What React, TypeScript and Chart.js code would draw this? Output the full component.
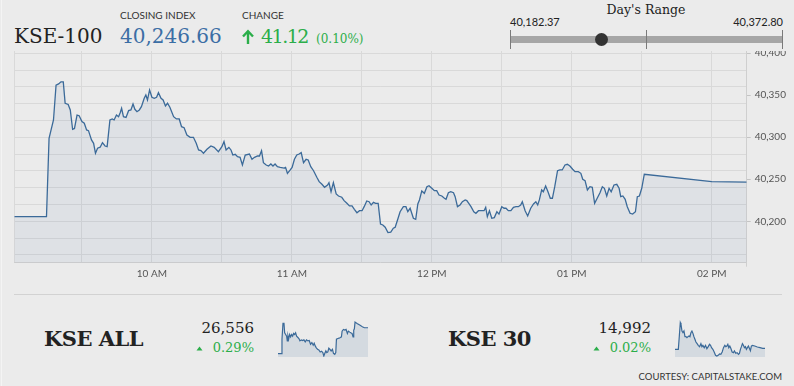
import React, { useEffect, useRef } from 'react';
import { Chart, registerables } from 'chart.js';

Chart.register(...registerables);

// ---- Data (minutes after 09:00, index value) ----
const kse100Series: [number, number][] = [
  [1, 40205.5], [14.8, 40205.5], [15.9, 40298.8], [17.8, 40320.6], [18.9, 40362], [20, 40363.5], [21, 40366], [22, 40366],
  [22.8, 40340.5], [24.1, 40339], [25, 40332.5], [26, 40309.5], [26.8, 40310.5], [27.9, 40326.5], [28.8, 40325.7], [30, 40318.6],
  [31, 40316.7], [32, 40308.7], [32.8, 40307.9], [34.1, 40296.8], [35, 40292.8], [35.8, 40281], [36.7, 40287], [37.8, 40288.2],
  [38.8, 40293.6], [39.9, 40289.6], [40.8, 40288.8], [42, 40320.6], [43, 40321.8], [43.8, 40320.6], [44.8, 40326.5], [45.7, 40324.5],
  [46.4, 40329.3], [47, 40334.5], [47.8, 40324.5], [48.9, 40323.7], [50, 40331.7], [51, 40332.5], [51.9, 40339.6], [52.7, 40333.3],
  [53.6, 40330.5], [54.6, 40332.5], [55.5, 40336.4], [56.7, 40346.4], [57.4, 40350.4], [58.1, 40344.4], [59, 40356.3], [60, 40347.6],
  [61, 40346.4], [62, 40347.6], [62.8, 40353.1], [63.9, 40346.4], [64.8, 40344.4], [65.8, 40337.3], [66.7, 40340.5], [67.7, 40335.7],
  [69.3, 40324.5], [70.5, 40321.8], [71.7, 40321.8], [72.7, 40312.6], [73.8, 40311.4], [75, 40302.7], [76.4, 40300], [77.8, 40300],
  [79, 40292.8], [80, 40284.9], [81, 40284.1], [82.1, 40281], [83.6, 40285.7], [85.3, 40289.6], [86.7, 40288], [88.5, 40282.9],
  [90, 40288.8], [90.9, 40294.8], [91.8, 40284.9], [93, 40288], [93.9, 40284.9], [94.7, 40278.9], [95.7, 40279.7], [96.7, 40276.9],
  [97.8, 40276.1], [98.8, 40267], [100, 40278.9], [101.8, 40280.1], [102.9, 40273.8], [104, 40276.1], [105.3, 40277.7], [106.1, 40277.7],
  [107, 40284], [107.8, 40269.8], [109, 40267], [110, 40265.8], [111, 40268.2], [111.9, 40265.8], [112.8, 40268.2], [113.8, 40265],
  [115, 40264.2], [116.7, 40263.4], [117.3, 40264.2], [118.1, 40257.1], [119.3, 40261.1], [120.1, 40264.2], [121.1, 40273.8], [122.1, 40278.9],
  [123.1, 40280.1], [124, 40281.7], [125, 40269.8], [126.1, 40273.8], [127, 40273], [128.1, 40265], [129.3, 40260.2], [130.7, 40252.4],
  [131.7, 40247.2], [132.9, 40244], [134, 40240.5], [135.3, 40243.2], [135.9, 40246], [136.8, 40235.2], [137.8, 40246], [139, 40232.5],
  [140, 40230.1], [141.4, 40228.6], [142.4, 40224.6], [143.6, 40221.4], [144.7, 40218.3], [145.8, 40218.3], [146.8, 40214.3], [147.9, 40210.2],
  [149, 40212.6], [150.1, 40212.6], [151, 40217.4], [152.1, 40224.2], [153.1, 40223.3], [154, 40219.4], [155, 40222.6], [155.9, 40221.4],
  [157, 40221.4], [158, 40196.8], [159, 40195.6], [160, 40193], [161.2, 40186.5], [162.4, 40187], [163.5, 40191.7], [164.3, 40192.9],
  [165.4, 40202.4], [166.4, 40211.4], [167.8, 40217.4], [168.9, 40217.4], [169.7, 40211.4], [170.7, 40215.5], [172.1, 40203.6], [173.1, 40202.4],
  [174, 40220.6], [174.7, 40225.4], [175.7, 40236.1], [176.8, 40233.3], [177.9, 40241.2], [178.8, 40242.4], [180, 40239.3], [181.1, 40236.4],
  [182.1, 40236.4], [183.1, 40231.3], [184.3, 40230.1], [185.4, 40227.4], [186.1, 40226.2], [187.1, 40234], [188.1, 40235.2], [189.3, 40234],
  [190, 40229.3], [191, 40217.4], [192.1, 40219.4], [193.1, 40223.3], [194.3, 40225.4], [195, 40224.6], [196, 40220.6], [196.8, 40217.4],
  [198, 40211.4], [198.9, 40209.5], [200, 40212.6], [201.4, 40212.6], [202.4, 40212.6], [203.1, 40216.7], [203.8, 40205.5], [204.7, 40212.6],
  [205.7, 40203.6], [206.8, 40204.4], [207.9, 40211.4], [208.8, 40208.6], [210, 40217.4], [211, 40215.5], [211.8, 40215.5], [212.8, 40212.6],
  [213.9, 40212.6], [215, 40216.7], [216.1, 40217.4], [217.1, 40217.4], [218.1, 40219.4], [218.8, 40223.3], [220, 40212.6], [221.1, 40206.3],
  [222.4, 40215.5], [223.6, 40220.6], [224.6, 40223.3], [225.4, 40219.4], [226.1, 40225.4], [227.1, 40237.3], [227.8, 40235.2], [228.8, 40242],
  [229.8, 40235.2], [230.8, 40227.4], [231.7, 40227.4], [232.7, 40241.2], [233.9, 40260.2], [234.9, 40261.1], [235.9, 40261.1], [237.1, 40267],
  [238.1, 40267.8], [239.2, 40265.8], [240.4, 40261.9], [241.4, 40259], [242.8, 40259], [243.9, 40257.1], [244.7, 40250], [245.7, 40248.4],
  [246.7, 40237.3], [247.8, 40241.2], [248.8, 40240.5], [249.8, 40221.4], [250.9, 40227.4], [252.1, 40234], [253.1, 40241.2], [254, 40239.3],
  [255, 40230.1], [256, 40239.3], [256.9, 40235.2], [258.1, 40243.2], [259.3, 40244], [260.3, 40239.3], [261, 40229.3], [261.9, 40230.1],
  [262.9, 40226.2], [263.8, 40217.4], [265, 40209.5], [266.1, 40208.6], [267.3, 40211.4], [268.1, 40229.3], [269, 40230.1], [270, 40239.3],
  [271.1, 40256], [300, 40247.2], [315, 40246.66],
];

const kseAllSeries: [number, number][] = [
  [1, 26479], [12.6, 26479], [14.9, 26522], [18.4, 26569], [21.9, 26569], [24.2, 26541], [27.7, 26536], [31.1, 26531],
  [33.4, 26517], [35.8, 26531], [38.1, 26522], [41.6, 26536], [45, 26529], [48.5, 26536], [52, 26531], [55.5, 26539],
  [58.9, 26536], [62.4, 26541], [65.9, 26531], [70.5, 26527], [74, 26524], [77.5, 26517], [82.1, 26520], [86.7, 26518],
  [91.4, 26520], [96, 26514], [100.6, 26520], [105.3, 26517], [109.9, 26518], [114.6, 26507], [119.2, 26512], [123.8, 26504],
  [127.3, 26510], [130.8, 26502], [134.2, 26497], [138.9, 26492], [143.5, 26490], [148.2, 26484], [152.8, 26486], [157.4, 26482],
  [160.9, 26472], [164.4, 26480], [167.9, 26487], [171.3, 26482], [174.8, 26484], [178.3, 26495], [181.8, 26492], [186.4, 26487],
  [191, 26492], [194.5, 26480], [199.1, 26477], [202.6, 26482], [204.9, 26522], [209.6, 26524], [214.2, 26525], [218.8, 26527],
  [222.3, 26529], [224.6, 26546], [229.3, 26551], [233.9, 26549], [238.5, 26551], [243.2, 26539], [246.6, 26546], [251.3, 26543],
  [254.7, 26541], [259.4, 26539], [262.9, 26529], [265.2, 26549], [267.5, 26553], [269.8, 26573], [276.8, 26569], [286, 26564],
  [295.3, 26559], [302.3, 26556], [315, 26556],
];

const kse30Series: [number, number][] = [
  [1, 14989], [12.6, 14989], [16.1, 15029], [19.5, 15069], [21.9, 15064], [25.3, 15044], [28.8, 15039], [32.3, 15044],
  [35.8, 15027], [39.2, 15027], [42.7, 15024], [46.2, 15027], [49.7, 15029], [53.1, 15027], [56.6, 15039], [60.1, 15044],
  [63.6, 15037], [67, 15027], [70.5, 15019], [74, 15011], [77.5, 15007], [82.1, 15001], [86.7, 14997], [91.4, 15006],
  [94.9, 14997], [98.3, 15001], [103, 14994], [107.6, 15001], [112.2, 14991], [116.9, 14997], [121.5, 15004], [125, 15001],
  [128.5, 14994], [133.1, 14989], [137.7, 14981], [142.4, 14971], [147, 14969], [151.7, 14971], [156.3, 14975], [160.9, 14974],
  [165.6, 14981], [170.2, 14994], [174.8, 15001], [178.3, 14997], [181.8, 14999], [185.3, 15004], [188.7, 14994], [192.2, 14999],
  [195.7, 14992], [200.3, 14981], [204.9, 14979], [208.4, 14984], [213, 14977], [217.7, 14979], [222.3, 14974], [225.8, 14977],
  [229.3, 14989], [232.7, 14997], [236.2, 15006], [239.7, 15001], [243.2, 14994], [246.6, 14997], [250.1, 14989], [253.6, 14994],
  [257.1, 14999], [260.5, 14992], [264, 14985], [267.5, 14999], [271, 15001], [279.1, 14999], [288.4, 14996], [297.6, 14994],
  [306.9, 14992], [315, 14992],
];

const gridMinutes = [1, 30, 60, 90, 120, 150, 180, 210, 240, 270, 300, 315];
const hourMinutes = [60, 120, 180, 240, 300];
const hourLabels = ['10 AM', '11 AM', '12 PM', '01 PM', '02 PM'];
const yTickValues = [40160, 40180, 40200, 40220, 40240, 40250, 40260, 40280, 40300, 40320, 40340, 40350, 40360, 40380, 40400];
const yGridStep = 20;
const yLabelStep = 50;

const indexName = 'KSE-100';
const closingIndex = 40246.66;
const changePoints = 41.12;
const changePercent = '(0.10%)';
const dayLow = 40182.37;
const dayHigh = 40372.8;

const summaryNames = ['KSE ALL', 'KSE 30'];
const summaryValues = ['26,556', '14,992'];
const summaryChanges = ['0.29%', '0.02%'];

// ---- Styles ----
const BG = '#ebebeb';
const GRID = '#d9d9d9';
const LINE = '#3b6a99';
const GREEN = '#2bae4a';
const BLUE = '#3b6ea5';
const SERIF = '"DejaVu Serif", serif';
const SANS = 'Lato, sans-serif';

const fmt = (v: number, d = 0) =>
  v.toLocaleString('en-US', { minimumFractionDigits: d, maximumFractionDigits: d });

function MainChart() {
  const ref = useRef<HTMLCanvasElement>(null);
  useEffect(() => {
    const canvas = ref.current!;
    const chart = new Chart(canvas, {
      type: 'line',
      data: {
        datasets: [
          {
            data: kse100Series.map(([x, y]) => ({ x, y })),
            borderColor: LINE,
            borderWidth: 1.3,
            backgroundColor: 'rgba(61,109,156,0.075)',
            fill: 'start',
            pointRadius: 0,
            tension: 0,
          },
        ],
      },
      options: {
        animation: false,
        responsive: false,
        events: [],
        layout: { padding: { left: 14.3, top: 20, right: 0, bottom: 0 } },
        plugins: { legend: { display: false }, tooltip: { enabled: false } },
        scales: {
          x: {
            type: 'linear',
            min: 1,
            max: 315,
            afterBuildTicks: (s: any) => {
              s.ticks = gridMinutes.map((value) => ({ value }));
            },
            afterFit: (s: any) => {
              s.height = 28.3;
            },
            border: { color: '#cfcfcf' },
            grid: {
              color: GRID,
              tickLength: 4,
              tickColor: (ctx: any) => (ctx.tick && ctx.tick.value === 315 ? '#cfcfcf' : 'rgba(0,0,0,0)'),
            },
            ticks: {
              autoSkip: false,
              maxRotation: 0,
              padding: 1,
              color: '#555',
              font: { family: 'Lato', size: 10 },
              callback: (v: any) => {
                const i = hourMinutes.indexOf(Number(v));
                return i >= 0 ? hourLabels[i] : '';
              },
            },
          },
          y: {
            position: 'right',
            min: 40150.7,
            max: 40402.7,
            afterBuildTicks: (s: any) => {
              s.ticks = yTickValues.map((value) => ({ value }));
            },
            afterFit: (s: any) => {
              s.width = 47.3;
            },
            border: { color: '#cfcfcf' },
            grid: {
              color: (ctx: any) => (ctx.tick && ctx.tick.value % yGridStep === 0 ? GRID : 'rgba(0,0,0,0)'),
              tickLength: 4,
              tickColor: (ctx: any) => (ctx.tick && ctx.tick.value % yLabelStep === 0 ? '#c4c4c4' : 'rgba(0,0,0,0)'),
            },
            ticks: {
              autoSkip: false,
              padding: 4,
              color: '#555',
              font: { family: 'Lato', size: 10 },
              callback: (v: any) => (Number(v) % yLabelStep === 0 ? fmt(Number(v)) : ''),
            },
          },
        },
      },
    });
    return () => chart.destroy();
  }, []);
  return (
    <div style={{ position: 'absolute', left: 0, top: 51, width: 794, height: 240, overflow: 'hidden' }}>
      <canvas ref={ref} width={794} height={260} style={{ position: 'absolute', left: 0, top: -20, display: 'block' }} />
    </div>
  );
}

function Spark({ series, min, max, left }: { series: [number, number][]; min: number; max: number; left: number }) {
  const ref = useRef<HTMLCanvasElement>(null);
  useEffect(() => {
    const chart = new Chart(ref.current!, {
      type: 'line',
      data: {
        datasets: [
          {
            data: series.map(([x, y]) => ({ x, y })),
            borderColor: LINE,
            borderWidth: 1.2,
            backgroundColor: 'rgba(61,109,156,0.13)',
            fill: 'start',
            pointRadius: 0,
            tension: 0,
          },
        ],
      },
      options: {
        animation: false,
        responsive: false,
        events: [],
        layout: { padding: 0 },
        plugins: { legend: { display: false }, tooltip: { enabled: false } },
        scales: {
          x: { type: 'linear', display: false, min: 1, max: 315 },
          y: { display: false, min, max },
        },
      },
    });
    return () => chart.destroy();
  }, []);
  return (
    <canvas
      ref={ref}
      width={90}
      height={41}
      style={{ position: 'absolute', left, top: 316, width: 90, height: 41, display: 'block' }}
    />
  );
}

const abs = (extra: React.CSSProperties): React.CSSProperties => ({
  position: 'absolute',
  whiteSpace: 'nowrap',
  lineHeight: 1,
  margin: 0,
  ...extra,
});

function UpTriangle({ left }: { left: number }) {
  return (
    <svg style={{ position: 'absolute', left, top: 346, width: 7, height: 5 }} viewBox="0 0 7 5">
      <polygon points="0.5,4.5 3.5,0.5 6.5,4.5" fill={GREEN} />
    </svg>
  );
}

export default function App() {
  const rangeLeft = 510;
  const rangeWidth = 272;
  const dotX = rangeLeft + ((closingIndex - dayLow) / (dayHigh - dayLow)) * rangeWidth;
  return (
    <div
      style={{
        position: 'fixed',
        left: 0,
        top: 0,
        width: 794,
        height: 386,
        background: BG,
        overflow: 'hidden',
        fontFamily: SANS,
      }}
    >
      <div style={{ position: 'absolute', left: 1, top: 0, width: 1, height: 386, background: '#f4f4f4' }} />

      {/* Header */}
      <div style={abs({ left: 14, top: 26.4, fontFamily: SERIF, fontSize: 20, color: '#222' })}>{indexName}</div>
      <div style={abs({ left: 120, top: 10.1, fontFamily: SANS, fontSize: 10, color: '#333' })}>CLOSING INDEX</div>
      <div style={abs({ left: 120, top: 26.4, fontFamily: SERIF, fontSize: 20, color: BLUE })}>{fmt(closingIndex, 2)}</div>
      <div style={abs({ left: 242, top: 10.1, fontFamily: SANS, fontSize: 10, color: '#333' })}>CHANGE</div>
      <svg style={{ position: 'absolute', left: 241, top: 29, width: 14, height: 16 }} viewBox="0 0 14 16">
        <line x1="7" y1="15" x2="7" y2="2.5" stroke={GREEN} strokeWidth="2.4" />
        <polyline points="2,7.5 7,2.2 12,7.5" fill="none" stroke={GREEN} strokeWidth="2.4" />
      </svg>
      <div style={abs({ left: 261, top: 27.2, fontFamily: SERIF, fontSize: 19, color: GREEN, letterSpacing: -1.5 })}>
        {fmt(changePoints, 2)}
      </div>
      <div style={abs({ left: 316, top: 33.2, fontFamily: SERIF, fontSize: 12, color: GREEN })}>{changePercent}</div>

      {/* Day's range */}
      <div style={abs({ left: 606, top: 4.4, width: 80, textAlign: 'center', fontFamily: SERIF, fontSize: 12.5, color: '#222' })}>
        Day's Range
      </div>
      <div style={abs({ left: 510, top: 16.2, fontFamily: SANS, fontSize: 11, color: '#222' })}>{fmt(dayLow, 2)}</div>
      <div style={abs({ right: 794 - 783, top: 16.2, fontFamily: SANS, fontSize: 11, color: '#222' })}>{fmt(dayHigh, 2)}</div>
      <div style={{ position: 'absolute', left: rangeLeft, top: 36, width: rangeWidth, height: 7, background: '#a6a6a6' }} />
      {[0, 0.5, 1].map((f) => (
        <div
          key={f}
          style={{ position: 'absolute', left: rangeLeft + f * rangeWidth, top: 30, width: 1, height: 19, background: '#7a7a7a' }}
        />
      ))}
      <div
        style={{
          position: 'absolute',
          left: dotX - 6.5,
          top: 33,
          width: 13,
          height: 13,
          borderRadius: '50%',
          background: '#333',
        }}
      />

      <MainChart />

      {/* Bottom summary */}
      <div style={{ position: 'absolute', left: 14, top: 294, width: 768, height: 1, background: '#d2d2d2' }} />

      <div style={abs({ left: 44, top: 328.2, fontFamily: SERIF, fontWeight: 'bold', fontSize: 21, color: '#222', letterSpacing: -0.5 })}>
        {summaryNames[0]}
      </div>
      <div style={abs({ right: 794 - 254, top: 321.3, fontFamily: SERIF, fontSize: 15, color: '#222' })}>{summaryValues[0]}</div>
      <UpTriangle left={196} />
      <div style={abs({ right: 794 - 254, top: 341, fontFamily: SERIF, fontSize: 13, color: GREEN })}>{summaryChanges[0]}</div>
      <Spark series={kseAllSeries} min={26469} max={26591} left={278} />

      <div style={abs({ left: 448, top: 328.2, fontFamily: SERIF, fontWeight: 'bold', fontSize: 21, color: '#222', letterSpacing: -0.5 })}>
        {summaryNames[1]}
      </div>
      <div style={abs({ right: 794 - 651, top: 321.3, fontFamily: SERIF, fontSize: 15, color: '#222' })}>{summaryValues[1]}</div>
      <UpTriangle left={593} />
      <div style={abs({ right: 794 - 651, top: 341, fontFamily: SERIF, fontSize: 13, color: GREEN })}>{summaryChanges[1]}</div>
      <Spark series={kse30Series} min={14966} max={15089} left={675} />

      <div style={abs({ right: 794 - 782, top: 372.3, fontFamily: SANS, fontSize: 9.5, color: '#333' })}>
        COURTESY: CAPITALSTAKE.COM
      </div>
    </div>
  );
}
